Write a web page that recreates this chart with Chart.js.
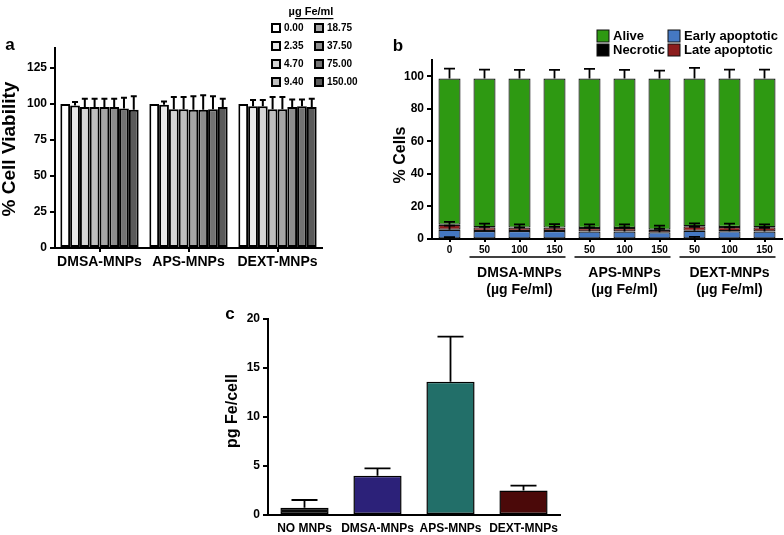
<!DOCTYPE html>
<html>
<head>
<meta charset="utf-8">
<script src="https://cdn.jsdelivr.net/npm/chart.js@4.4.1/dist/chart.umd.min.js"></script>
<style>
    body { margin: 0; background: #fff; }
    #wrap { position: relative; width: 784px; height: 535px; overflow: hidden; }
    canvas { position: absolute; }
</style>
</head>
<body>
<div id="wrap">
    <canvas id="chartA" width="390" height="285" style="left:0;top:0"></canvas>
    <canvas id="chartB" width="394" height="300" style="left:390px;top:0"></canvas>
    <canvas id="chartC" width="350" height="245" style="left:220px;top:290px"></canvas>
</div>
<script>
const FONT = "'Liberation Sans', Arial, sans-serif";

// panel a - viability per dose (ug Fe/ml)
const groupsA = ["DMSA-MNPs", "APS-MNPs", "DEXT-MNPs"];
const doses = ["0.00", "2.35", "4.70", "9.40", "18.75", "37.50", "75.00", "150.00"];
const doseColors = ["#ffffff", "#e9e9e9", "#d5d5d5", "#bebebe", "#a6a6a6", "#8d8d8d", "#737373", "#5a5a5a"];
const viabDMSA = [100, 99, 98, 98, 98, 98, 97, 96];
const viabAPS = [100, 99.5, 96.5, 96.5, 96, 96, 96.5, 98];
const viabDEXT = [100, 98.6, 98.6, 96.5, 96.5, 98, 98.6, 98];
const errDMSA = [0, 2.4, 5.7, 5.7, 5.7, 5.7, 7.4, 9.5];
const errAPS = [0, 2.3, 8.4, 8.4, 9.5, 10.2, 9.0, 5.7];
const errDEXT = [0, 4.2, 4.2, 8.4, 8.4, 5.2, 4.6, 5.7];

// panel b - % cells, stacked
const treatB = ["0", "50", "100", "150", "50", "100", "150", "50", "100", "150"];
const necrotic = [0.3, 0.3, 0.3, 0.3, 0.3, 0.3, 0.3, 0.3, 0.3, 0.3];
const earlyApo = [5.4, 4.6, 4.6, 4.6, 4.3, 4.3, 3.8, 4.7, 4.5, 4.3];
const lateApo = [3.1, 2.3, 2.1, 2.1, 2.2, 2.2, 1.6, 2.8, 2.6, 2.6];
const alive = [89.8, 91.4, 91.6, 91.6, 91.8, 91.8, 92.9, 90.8, 91.2, 91.4];
const errNecrotic = [0.9, 0, 0, 0, 0, 0, 0, 1.0, 0, 0];
const errEarly = [2.5, 2.5, 2.3, 2.5, 2.5, 2.5, 2.2, 2.5, 2.3, 2.3];
const errLate = [1.7, 2.2, 2.0, 2.2, 2.2, 2.2, 2.5, 1.8, 2.0, 1.8];
const errAlive = [6.1, 5.5, 5.3, 5.3, 5.9, 5.3, 4.9, 6.5, 5.5, 5.5];
const groupsB = [
    { name: "DMSA-MNPs", first: 1, last: 3 },
    { name: "APS-MNPs", first: 4, last: 6 },
    { name: "DEXT-MNPs", first: 7, last: 9 },
];

// panel c - iron uptake
const treatC = ["NO MNPs", "DMSA-MNPs", "APS-MNPs", "DEXT-MNPs"];
const ironC = [0.75, 4.0, 13.6, 2.5];
const errC = [0.78, 0.75, 4.6, 0.5];
const colorsC = ["#0b0b0b", "#2c2179", "#226f69", "#4b0909"];

Chart.defaults.font.family = FONT;
Chart.defaults.color = "#000";

let label = (ctx, str, x, y, size, align, rot) => {
    ctx.save();
    ctx.font = "bold " + size + "px " + FONT;
    ctx.fillStyle = "#000";
    ctx.textAlign = align || "center";
    ctx.textBaseline = "middle";
    ctx.translate(x, y);
    if (rot) ctx.rotate(rot);
    ctx.fillText(str, 0, 0);
    ctx.restore();
};

let errorBars = {
    id: "errorBars",
    afterDatasetsDraw(chart, args, opts) {
        const ctx = chart.ctx, y = chart.scales.y;
        ctx.save();
        ctx.strokeStyle = "#000";
        ctx.lineWidth = opts.lineWidth || 1.5;
        chart.data.datasets.forEach((ds, i) => {
            chart.getDatasetMeta(i).data.forEach((bar, j) => {
                const e = ds.errors[j];
                if (!e) return;
                const yEnd = y.getPixelForValue(y.getValueForPixel(bar.y) + e);
                const half = opts.cap / 2;
                ctx.beginPath();
                ctx.moveTo(bar.x, bar.y);
                ctx.lineTo(bar.x, yEnd);
                ctx.moveTo(bar.x - half, yEnd);
                ctx.lineTo(bar.x + half, yEnd);
                ctx.stroke();
            });
        });
        ctx.restore();
    },
};

let yAxis = (max, step, width, size) => ({
    min: 0,
    max: max,
    afterFit: (s) => { s.width = width; },
    afterBuildTicks: (s) => { s.ticks = s.ticks.filter((t) => t.value % step === 0); },
    ticks: { stepSize: step, font: { size: size, weight: "bold" }, color: "#000", padding: 3 },
    grid: { drawOnChartArea: false, color: "#000", lineWidth: 2, tickLength: 5 },
    border: { color: "#000", width: 2 },
});

let xAxis = (height, size, tickLen, pad) => ({
    afterFit: (s) => { s.height = height; },
    ticks: { font: { size: size, weight: "bold" }, color: "#000", autoSkip: false, maxRotation: 0, padding: pad },
    grid: { drawOnChartArea: false, offset: false, color: "#000", lineWidth: 2, tickLength: tickLen, drawTicks: tickLen > 0 },
    border: { color: "#000", width: 2 },
});

// ---------- panel a ----------
let drawPanelA = () => {
    const ctx = document.getElementById("chartA").getContext("2d");
    const byGroup = [viabDMSA, viabAPS, viabDEXT];
    const errByGroup = [errDMSA, errAPS, errDEXT];
    return new Chart(ctx, {
        type: "bar",
        data: {
            labels: groupsA,
            datasets: doses.map((d, i) => ({
                label: d,
                data: byGroup.map((g) => g[i]),
                errors: errByGroup.map((g) => g[i]),
                backgroundColor: doseColors[i],
                borderColor: "#000",
                borderWidth: 2,
                borderSkipped: false,
                categoryPercentage: 0.88,
                barPercentage: 1.0,
            })),
        },
        options: {
            responsive: false,
            animation: false,
            layout: { autoPadding: false, padding: { left: 0, top: 48, right: 68, bottom: 0 } },
            scales: { x: xAxis(37, 14, 4, 2), y: yAxis(139, 25, 55, 12) },
            plugins: { legend: { display: false }, tooltip: { enabled: false }, errorBars: { cap: 6, lineWidth: 2 } },
        },
        plugins: [
            errorBars,
            {
                id: "decorA",
                afterDraw(chart) {
                    const c = chart.ctx;
                    label(c, "a", 10, 45, 17);
                    label(c, "% Cell Viability", 10, 149, 19, "center", -Math.PI / 2);
                    // legend title
                    c.save();
                    c.font = "bold 11px " + FONT;
                    const t = "\u00b5g Fe/ml", w = c.measureText(t).width, mu = c.measureText("\u00b5").width;
                    const x0 = 311 - w / 2;
                    c.fillStyle = "#000";
                    c.textBaseline = "middle";
                    c.fillText(t, x0, 12);
                    c.fillRect(x0 + mu, 18, w - mu, 1.2);
                    c.restore();
                    doses.forEach((d, i) => {
                        const col = Math.floor(i / 4), row = i % 4;
                        const bx = col ? 315 : 272, by = 28 + row * 18;
                        c.save();
                        c.fillStyle = doseColors[i];
                        c.strokeStyle = "#000";
                        c.lineWidth = 2;
                        c.fillRect(bx, by - 4, 8, 8);
                        c.strokeRect(bx, by - 4, 8, 8);
                        c.restore();
                        label(c, d, bx + 12, by, 10, "left");
                    });
                },
            },
        ],
    });
};

// ---------- panel b ----------
let drawPanelB = () => {
    const ctx = document.getElementById("chartB").getContext("2d");
    const parts = [
        { label: "Necrotic", data: necrotic, errors: errNecrotic, color: "#000000" },
        { label: "Early apoptotic", data: earlyApo, errors: errEarly, color: "#4578c2" },
        { label: "Late apoptotic", data: lateApo, errors: errLate, color: "#8c1d1d" },
        { label: "Alive", data: alive, errors: errAlive, color: "#2e9912" },
    ];
    return new Chart(ctx, {
        type: "bar",
        data: {
            labels: treatB,
            datasets: parts.map((p) => ({
                label: p.label,
                data: p.data,
                errors: p.errors,
                backgroundColor: p.color,
                borderColor: "#111",
                borderWidth: 1.2,
                borderSkipped: false,
                stack: "s",
                categoryPercentage: 1.0,
                barPercentage: 0.63,
            })),
        },
        options: {
            responsive: false,
            animation: false,
            layout: { autoPadding: false, padding: { left: 0, top: 60, right: 2, bottom: 0 } },
            scales: {
                x: Object.assign(xAxis(61, 10, 3, 2), { stacked: true }),
                y: Object.assign(yAxis(110, 20, 42, 12), { stacked: true }),
            },
            plugins: { legend: { display: false }, tooltip: { enabled: false }, errorBars: { cap: 11, lineWidth: 1.8 } },
        },
        plugins: [
            errorBars,
            {
                id: "decorB",
                afterDraw(chart) {
                    const c = chart.ctx, x = chart.scales.x;
                    label(c, "b", 8, 46, 17);
                    label(c, "% Cells", 11, 155, 16, "center", -Math.PI / 2);
                    const leg = [
                        { t: "Alive", col: "#2e9912", bx: 207, by: 36 },
                        { t: "Early apoptotic", col: "#4578c2", bx: 278, by: 36 },
                        { t: "Necrotic", col: "#000000", bx: 207, by: 50 },
                        { t: "Late apoptotic", col: "#8c1d1d", bx: 278, by: 50 },
                    ];
                    leg.forEach((l) => {
                        c.save();
                        c.fillStyle = l.col;
                        c.strokeStyle = "#111";
                        c.lineWidth = 1;
                        c.fillRect(l.bx, l.by - 6, 12, 12);
                        c.strokeRect(l.bx, l.by - 6, 12, 12);
                        c.restore();
                        label(c, l.t, l.bx + 16, l.by, 13, "left");
                    });
                    groupsB.forEach((g) => {
                        const x1 = x.getPixelForValue(g.first) - 15, x2 = x.getPixelForValue(g.last) + 11;
                        c.save();
                        c.strokeStyle = "#000";
                        c.lineWidth = 1.5;
                        c.beginPath();
                        c.moveTo(x1, 257);
                        c.lineTo(x2, 257);
                        c.stroke();
                        c.restore();
                        const mid = (x.getPixelForValue(g.first) + x.getPixelForValue(g.last)) / 2;
                        label(c, g.name, mid, 273, 14);
                        label(c, "(\u00b5g Fe/ml)", mid, 290, 14);
                    });
                },
            },
        ],
    });
};

// ---------- panel c ----------
let drawPanelC = () => {
    const ctx = document.getElementById("chartC").getContext("2d");
    return new Chart(ctx, {
        type: "bar",
        data: {
            labels: treatC,
            datasets: [
                {
                    label: "pg Fe/cell",
                    data: ironC,
                    errors: errC,
                    backgroundColor: colorsC,
                    borderColor: "#000",
                    borderWidth: 1.5,
                    borderSkipped: false,
                    categoryPercentage: 1.0,
                    barPercentage: 0.66,
                },
            ],
        },
        options: {
            responsive: false,
            animation: false,
            layout: { autoPadding: false, padding: { left: 0, top: 29, right: 10, bottom: 0 } },
            scales: { x: xAxis(20, 12, 0, 6), y: yAxis(20, 5, 48, 12) },
            plugins: { legend: { display: false }, tooltip: { enabled: false }, errorBars: { cap: 26, lineWidth: 1.8 } },
        },
        plugins: [
            errorBars,
            {
                id: "decorC",
                afterDraw(chart) {
                    const c = chart.ctx;
                    label(c, "c", 10, 24, 17);
                    label(c, "pg Fe/cell", 13, 121, 16, "center", -Math.PI / 2);
                },
            },
        ],
    });
};

drawPanelA();
drawPanelB();
drawPanelC();
</script>
</body>
</html>
